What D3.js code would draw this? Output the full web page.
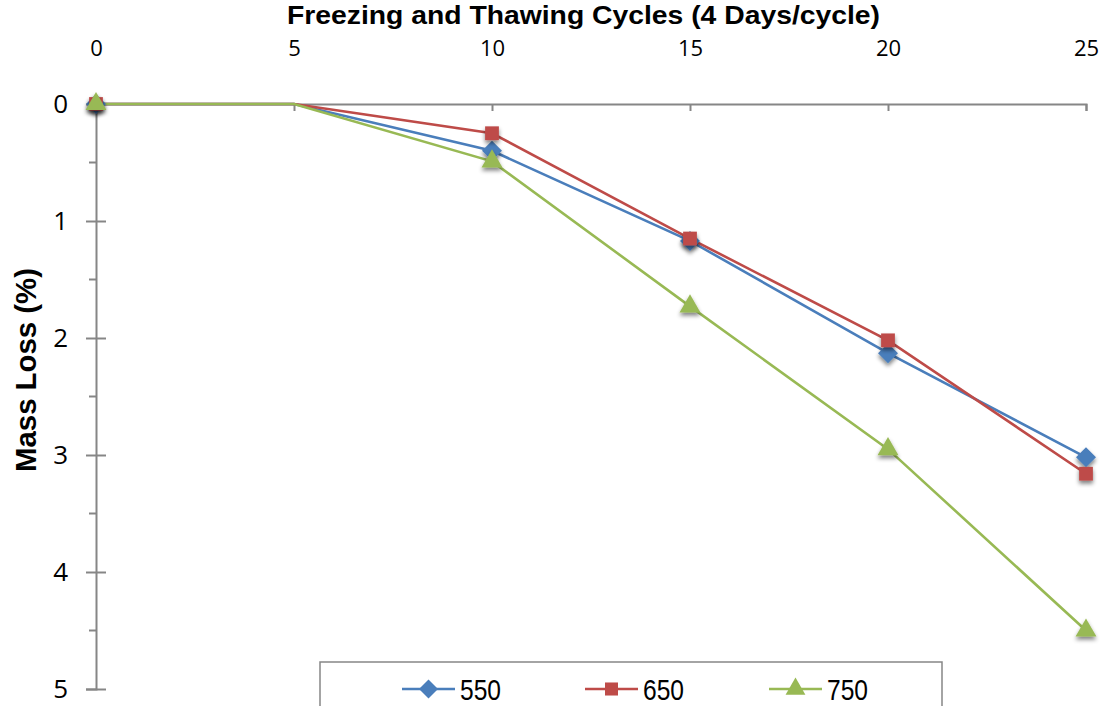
<!DOCTYPE html>
<html><head><meta charset="utf-8">
<script src="https://cdn.jsdelivr.net/npm/d3@7"></script>
<style>
body{margin:0;background:#fff;}
svg{display:block;}
.narrow{font-family:"Liberation Sans Narrow","Arial Narrow","Liberation Sans",sans-serif;}
</style>
</head><body>
<svg id="c" width="1106" height="706"></svg>
<script>
const cycles = [0, 5, 10, 15, 20, 25];
const seriesNames = ["550", "650", "750"];
const s550 = [0, 0, 0.40, 1.17, 2.13, 3.02];
const s650 = [0, 0, 0.25, 1.15, 2.02, 3.16];
const s750 = [0, 0, 0.49, 1.73, 2.95, 4.50];
const markerShown = [true, false, true, true, true, true];
const xTicks = [0, 5, 10, 15, 20, 25];
const yTicks = [0, 1, 2, 3, 4, 5];
const yMinor = [0.5, 1.5, 2.5, 3.5, 4.5];
const colors = ["#4A7EBB", "#BE4B48", "#98B954"];

const diamond = {draw(ctx, size){ const r = Math.sqrt(size/2); ctx.moveTo(0,-r); ctx.lineTo(r,0); ctx.lineTo(0,r); ctx.lineTo(-r,0); ctx.closePath(); }};
const shapes = [diamond, d3.symbolSquare, d3.symbolTriangle];
const sizes = [200, 190, 190];

const svg = d3.select("#c");
const x = d3.scaleLinear().domain([0, 25]).range([96, 1086]);
const y = d3.scaleLinear().domain([0, 5]).range([104, 689]);

const defs = svg.append("defs");
const f = defs.append("filter").attr("id","sh").attr("x","-50%").attr("y","-50%").attr("width","200%").attr("height","200%");
f.append("feGaussianBlur").attr("in","SourceAlpha").attr("stdDeviation",2);
f.append("feOffset").attr("dx",0).attr("dy",3).attr("result","ob");
f.append("feComponentTransfer").append("feFuncA").attr("type","linear").attr("slope",0.5);
const m = f.append("feMerge"); m.append("feMergeNode"); m.append("feMergeNode").attr("in","SourceGraphic");

const axisColor = "#868686";
const xAxis = d3.axisTop(x).tickValues(xTicks).tickSize(-7).tickPadding(0).tickFormat(d3.format("d"));
const gx = svg.append("g").attr("transform","translate(0,104)").call(xAxis);
gx.select(".domain").attr("stroke",axisColor).attr("stroke-width",2);
gx.selectAll(".tick line").attr("stroke",axisColor).attr("stroke-width",2);
gx.selectAll(".tick text").attr("y",-48).attr("dy",0).attr("font-size",22).attr("fill","#000")
  .attr("font-family","'Open Sans','Noto Sans',sans-serif");

const yAxis = d3.axisLeft(y).tickValues(yTicks).tickSize(10).tickPadding(18).tickFormat(d3.format("d"));
const gy = svg.append("g").attr("transform","translate(96,0)").call(yAxis);
gy.select(".domain").attr("stroke",axisColor).attr("stroke-width",2);
gy.selectAll(".tick line").attr("stroke",axisColor).attr("stroke-width",2).attr("x2",10).attr("x1",-10);
gy.selectAll(".tick").filter(d=>d===0).select("line").remove();
gy.selectAll(".tick text").attr("font-size",26).attr("fill","#000").attr("x",-28)
  .attr("font-family","'Open Sans','Noto Sans',sans-serif");
svg.append("g").selectAll("line").data(yMinor).join("line")
  .attr("x1",89).attr("x2",96).attr("y1",d=>y(d)).attr("y2",d=>y(d))
  .attr("stroke",axisColor).attr("stroke-width",2);

svg.append("text").attr("class","narrow").attr("x",287).attr("y",24)
  .attr("font-size",26).attr("font-weight","bold")
  .attr("textLength",593).attr("lengthAdjust","spacingAndGlyphs")
  .text("Freezing and Thawing Cycles  (4 Days/cycle)");
svg.append("text").attr("class","narrow").attr("transform","translate(36,472) rotate(-90)")
  .attr("font-size",29).attr("font-weight","bold")
  .attr("textLength",204).attr("lengthAdjust","spacingAndGlyphs").text("Mass Loss (%)");

const data = [s550, s650, s750];
const line = d3.line().x((d,i)=>x(cycles[i])).y(d=>y(d));
data.forEach((s,k)=>{
  svg.append("path").datum(s).attr("d",line).attr("fill","none").attr("stroke",colors[k]).attr("stroke-width",2.6);
});
data.forEach((s,k)=>{
  svg.append("g").selectAll("path").data(s.map((v,i)=>({v,i})).filter(d=>markerShown[d.i])).join("path")
    .attr("d", d3.symbol().type(shapes[k]).size(sizes[k]))
    .attr("transform", d=>`translate(${x(cycles[d.i])},${y(d.v)})`)
    .attr("fill",colors[k]).attr("filter","url(#sh)");
});

svg.append("rect").attr("x",320).attr("y",662).attr("width",622).attr("height",60)
  .attr("fill","#fff").attr("stroke",axisColor).attr("stroke-width",1.5);
const legX = [402, 585, 769];
seriesNames.forEach((n,k)=>{
  const g = svg.append("g").attr("transform",`translate(${legX[k]},689)`);
  g.append("line").attr("x1",0).attr("x2",53).attr("stroke",colors[k]).attr("stroke-width",2.6);
  g.append("path").attr("d",d3.symbol().type(shapes[k]).size(sizes[k]-20)()).attr("transform","translate(26.5,0)").attr("fill",colors[k]);
  g.append("text").attr("class","narrow").attr("x",58).attr("y",11).attr("font-size",30)
    .attr("textLength",41).attr("lengthAdjust","spacingAndGlyphs").text(n);
});
</script>
</body></html>
